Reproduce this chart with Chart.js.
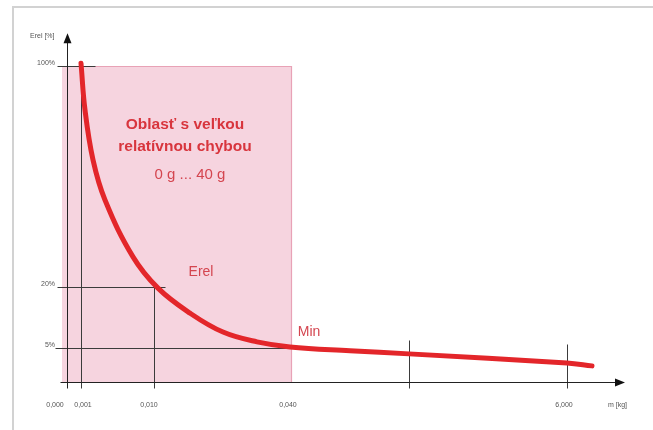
<!DOCTYPE html>
<html>
<head>
<meta charset="utf-8">
<script src="https://cdn.jsdelivr.net/npm/chart.js@4/dist/chart.umd.min.js"></script>
<style>
  html, body { margin: 0; padding: 0; background: #fff; }
  #wrap { position: relative; width: 653px; height: 430px; }
</style>
</head>
<body>
<div id="wrap"><canvas id="chart" width="653" height="430"></canvas></div>
<script>
// Schematic axis positions (the original drawing is not to scale)
const xTickPos = [0, 2.8, 17.4, 45, 68.4, 100];
const xTickLabels = ['0,000', '0,001', '0,010', '0,040', '', '6,000'];
const yTickPos = [10.8, 30, 100];
const yTickLabels = ['5%', '20%', '100%'];

// Erel curve (schematic units)
const curveX = [2.8, 3.6, 5.2, 7.6, 13.2, 18.2, 24.6, 31.2, 38, 44.6, 56.6, 68.4, 100, 105];
const curveY = [100.9, 86.1, 70.3, 57.6, 39.6, 29.7, 21.8, 15.8, 12.7, 11.1, 9.9, 8.9, 6.0, 5.1];

// region with large relative error (0 g ... 40 g)
const regionX = [-1, 45];
const regionY = [-0.3, 100];

const red = '#e3262a';
const textRed = '#d8353d';
const softRed = '#d4454f';
const lineCol = '#3b3b3b';
const labelCol = '#555';
const font = '"Liberation Sans", Arial, sans-serif';

const schemePlugin = {
  id: 'scheme',
  beforeDatasetsDraw(chart) {
    const ctx = chart.ctx;
    const xs = chart.scales.x, ys = chart.scales.y;
    const X = v => xs.getPixelForValue(v);
    const Y = v => ys.getPixelForValue(v);
    ctx.save();

    // frame
    ctx.strokeStyle = '#d2d2d2';
    ctx.lineWidth = 2;
    ctx.beginPath();
    ctx.moveTo(13, 430); ctx.lineTo(13, 7); ctx.lineTo(653, 7);
    ctx.stroke();

    // pink region
    const bx0 = X(regionX[0]), bx1 = X(regionX[1]);
    const by0 = Y(regionY[1]), by1 = Y(regionY[0]);
    ctx.fillStyle = '#f6d4df';
    ctx.fillRect(bx0, by0, bx1 - bx0, by1 - by0);
    ctx.strokeStyle = '#e8a2b6';
    ctx.lineWidth = 1.2;
    ctx.beginPath();
    ctx.moveTo(bx0, by0 + 0.5); ctx.lineTo(bx1 - 0.5, by0 + 0.5); ctx.lineTo(bx1 - 0.5, by1);
    ctx.stroke();

    // guide lines
    ctx.strokeStyle = lineCol;
    ctx.lineWidth = 1;
    const seg = (x0, y0, x1, y1) => {
      ctx.beginPath();
      ctx.moveTo(Math.round(x0) + 0.5, Math.round(y0) + 0.5);
      ctx.lineTo(Math.round(x1) + 0.5, Math.round(y1) + 0.5);
      ctx.stroke();
    };
    const below = Y(0) + 6;
    // horizontal level lines
    seg(X(-2), Y(yTickPos[2]), X(5.6), Y(yTickPos[2]));
    seg(X(-2), Y(yTickPos[1]), X(19.6), Y(yTickPos[1]));
    seg(X(-2.4), Y(yTickPos[0]), X(44.6), Y(yTickPos[0]));
    // verticals
    seg(X(xTickPos[1]), Y(yTickPos[2]), X(xTickPos[1]), below);
    seg(X(xTickPos[2]), Y(yTickPos[1]), X(xTickPos[2]), below);
    seg(X(xTickPos[4]), Y(13.3), X(xTickPos[4]), below);
    seg(X(xTickPos[5]), Y(12), X(xTickPos[5]), below);

    // axes
    ctx.strokeStyle = '#222';
    seg(X(0), Y(108), X(0), below);
    seg(X(-1.4), Y(0), X(110), Y(0));
    ctx.restore();
  },
  afterDatasetsDraw(chart) {
    const ctx = chart.ctx;
    const xs = chart.scales.x, ys = chart.scales.y;
    const X = v => xs.getPixelForValue(v);
    const Y = v => ys.getPixelForValue(v);
    ctx.save();

    // arrow heads
    ctx.fillStyle = '#111';
    const ax = Math.round(X(0)) + 0.5, ay = Y(110.4);
    ctx.beginPath();
    ctx.moveTo(ax, ay); ctx.lineTo(ax - 4, ay + 10); ctx.lineTo(ax + 4, ay + 10); ctx.closePath();
    ctx.fill();
    const hx = X(111.6), hy = Math.round(Y(0)) + 0.5;
    ctx.beginPath();
    ctx.moveTo(hx, hy); ctx.lineTo(hx - 10, hy - 4); ctx.lineTo(hx - 10, hy + 4); ctx.closePath();
    ctx.fill();

    // tick labels
    ctx.fillStyle = labelCol;
    ctx.font = '7px ' + font;
    ctx.textBaseline = 'middle';
    ctx.textAlign = 'right';
    yTickLabels.forEach((t, i) => ctx.fillText(t, X(-2.4), Y(yTickPos[i]) - 3));
    ctx.textAlign = 'left';
    ctx.fillText('Erel [%]', 30, 36);
    ctx.textAlign = 'center';
    const shift = [-12, 2, -5, -4, 0, -3];
    xTickLabels.forEach((t, i) => ctx.fillText(t, X(xTickPos[i]) + shift[i], 405));
    ctx.textAlign = 'left';
    ctx.fillText('m [kg]', 608, 405);

    // annotations
    ctx.textAlign = 'center';
    ctx.fillStyle = textRed;
    ctx.font = 'bold 15.5px ' + font;
    ctx.fillText('Oblasť s veľkou', 185, 125);
    ctx.fillText('relatívnou chybou', 185, 147);
    ctx.fillStyle = softRed;
    ctx.font = '15px ' + font;
    ctx.fillText('0 g ... 40 g', 190, 175);
    ctx.font = '14px ' + font;
    ctx.fillText('Erel', 201, 272);
    ctx.fillText('Min', 309, 332);
    ctx.restore();
  }
};

new Chart(document.getElementById('chart'), {
  type: 'line',
  data: {
    datasets: [{
      label: 'Erel',
      data: curveX.map((x, i) => ({ x: x, y: curveY[i] })),
      borderColor: red,
      borderWidth: 5,
      borderCapStyle: 'round',
      pointRadius: 0,
      tension: 0.4,
      fill: false
    }]
  },
  options: {
    responsive: false,
    animation: false,
    layout: { padding: { left: 57, right: 26, top: 28.08, bottom: 38.52 } },
    plugins: { legend: { display: false }, tooltip: { enabled: false } },
    scales: {
      x: { type: 'linear', min: -2, max: 112, display: false },
      y: { type: 'linear', min: -3, max: 112, display: false }
    }
  },
  plugins: [schemePlugin]
});
</script>
</body>
</html>
